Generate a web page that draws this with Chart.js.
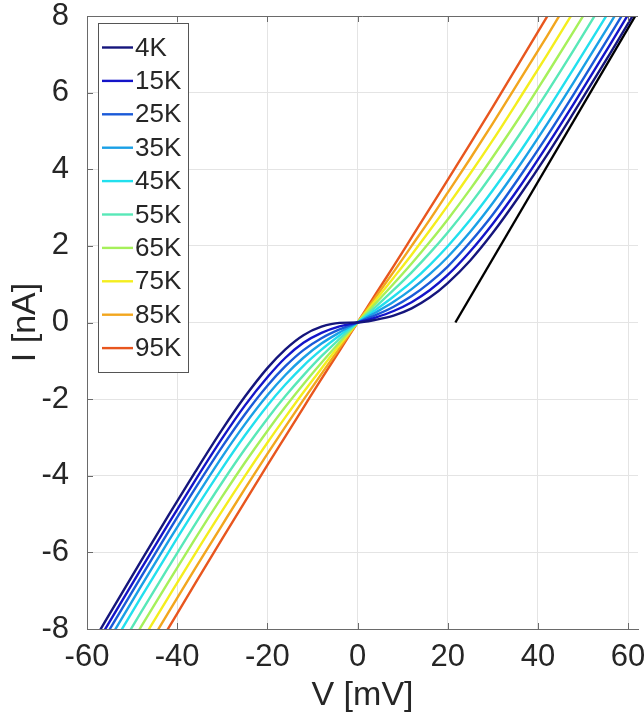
<!DOCTYPE html>
<html>
<head>
<meta charset="utf-8">
<script src="https://cdn.jsdelivr.net/npm/chart.js@4.4.1/dist/chart.umd.min.js"></script>
<style>
  html, body { margin: 0; padding: 0; background: #fff; }
  canvas { display: block; }
</style>
</head>
<body>
<canvas id="ivChart" width="644" height="721"></canvas>
<script>
// bias voltage grid (mV), shared by every temperature curve
const voltage = [-64, -56, -48, -42, -36, -30, -25, -20, -16, -12, -8, -4, 0, 4, 8, 12, 16, 20, 25, 30, 36, 42, 48, 56, 64];

const temperatures = ['4K', '15K', '25K', '35K', '45K', '55K', '65K', '75K', '85K', '95K'];

// current (nA) at each voltage above
const current4K  = [-9.40, -7.81, -6.22, -5.05, -3.90, -2.79, -1.94, -1.19, -0.70, -0.33, -0.11, -0.01, 0, 0.07, 0.18, 0.37, 0.65, 1.03, 1.62, 2.34, 3.32, 4.37, 5.49, 7.02, 8.59];
const current15K = [-9.60, -8.01, -6.43, -5.26, -4.12, -3.02, -2.17, -1.43, -0.92, -0.53, -0.27, -0.10, 0, 0.13, 0.30, 0.53, 0.84, 1.24, 1.86, 2.58, 3.55, 4.61, 5.72, 7.25, 8.82];
const current25K = [-9.80, -8.21, -6.64, -5.47, -4.33, -3.24, -2.40, -1.65, -1.14, -0.72, -0.41, -0.18, 0, 0.19, 0.41, 0.69, 1.04, 1.46, 2.10, 2.82, 3.81, 4.86, 5.97, 7.50, 9.06];
const current35K = [-10.05, -8.46, -6.88, -5.72, -4.59, -3.50, -2.66, -1.90, -1.37, -0.92, -0.55, -0.26, 0, 0.26, 0.54, 0.87, 1.26, 1.71, 2.37, 3.12, 4.11, 5.17, 6.28, 7.80, 9.37];
const current45K = [-10.33, -8.74, -7.17, -6.01, -4.88, -3.80, -2.95, -2.17, -1.62, -1.13, -0.71, -0.34, 0, 0.33, 0.68, 1.06, 1.50, 1.99, 2.68, 3.45, 4.45, 5.52, 6.64, 8.16, 9.73];
const current55K = [-10.71, -9.13, -7.56, -6.40, -5.26, -4.17, -3.31, -2.51, -1.92, -1.38, -0.88, -0.43, 0, 0.41, 0.85, 1.31, 1.81, 2.35, 3.09, 3.89, 4.92, 6.00, 7.12, 8.66, 10.22];
const current65K = [-11.10, -9.51, -7.94, -6.78, -5.64, -4.54, -3.66, -2.83, -2.20, -1.61, -1.05, -0.52, 0, 0.50, 1.01, 1.54, 2.10, 2.69, 3.48, 4.32, 5.37, 6.48, 7.61, 9.15, 10.72];
const current75K = [-11.50, -9.91, -8.34, -7.18, -6.03, -4.91, -4.01, -3.14, -2.47, -1.82, -1.20, -0.59, 0, 0.58, 1.17, 1.77, 2.40, 3.05, 3.89, 4.76, 5.86, 6.98, 8.13, 9.68, 11.26];
const current85K = [-11.92, -10.33, -8.75, -7.58, -6.42, -5.28, -4.34, -3.43, -2.72, -2.02, -1.34, -0.67, 0, 0.66, 1.32, 2.00, 2.68, 3.39, 4.28, 5.20, 6.33, 7.47, 8.64, 10.20, 11.79];
const current95K = [-12.35, -10.76, -9.17, -7.99, -6.81, -5.64, -4.68, -3.72, -2.97, -2.22, -1.47, -0.74, 0, 0.74, 1.47, 2.22, 2.97, 3.72, 4.67, 5.63, 6.80, 7.98, 9.16, 10.74, 12.33];

// black linear fit of the high-bias 4K branch
const fitVoltage = [21.7, 61.6];
const fitCurrent = [0, 8];

const xTicks = [-60, -40, -20, 0, 20, 40, 60];
const yTicks = [-8, -6, -4, -2, 0, 2, 4, 6, 8];

const currents = [current4K, current15K, current25K, current35K, current45K,
                  current55K, current65K, current75K, current85K, current95K];
const lineColors = ['#15157c', '#1414c8', '#1a5ad8', '#1aa0e6', '#22e0ee',
                    '#58e8b8', '#a6f05a', '#f4ee1e', '#f2a61e', '#e8561e'];

const FONT = 'Liberation Sans, Arial, Helvetica, sans-serif';
const TEXT_COLOR = '#262626';
const AXIS_COLOR = '#6a6a6a';
const GRID_COLOR = '#e4e4e4';

const datasets = currents.map((cur, i) => ({
    label: temperatures[i],
    data: voltage.map((v, k) => ({ x: v, y: cur[k] })),
    borderColor: lineColors[i],
    borderWidth: 2.4,
    pointRadius: 0,
    showLine: true,
    fill: false,
    cubicInterpolationMode: 'monotone'
}));
datasets.push({
    label: 'fit',
    data: fitVoltage.map((v, k) => ({ x: v, y: fitCurrent[k] })),
    borderColor: '#000000',
    borderWidth: 2.4,
    pointRadius: 0,
    showLine: true,
    fill: false
});

// box top edge, inward ticks and the boxed legend, MATLAB style
const matlabFrame = {
    id: 'matlabFrame',
    afterDraw(chart) {
        const { ctx, chartArea: a, scales } = chart;
        ctx.save();
        ctx.strokeStyle = AXIS_COLOR;
        ctx.lineWidth = 1;
        ctx.beginPath();
        ctx.moveTo(a.left, a.top + 0.5);
        ctx.lineTo(a.right, a.top + 0.5);
        scales.x.ticks.forEach(t => {
            const px = Math.round(scales.x.getPixelForValue(t.value)) + 0.5;
            ctx.moveTo(px, a.bottom); ctx.lineTo(px, a.bottom - 6);
            ctx.moveTo(px, a.top); ctx.lineTo(px, a.top + 6);
        });
        scales.y.ticks.forEach(t => {
            const py = Math.round(scales.y.getPixelForValue(t.value)) + 0.5;
            ctx.moveTo(a.left, py); ctx.lineTo(a.left + 6, py);
        });
        ctx.stroke();

        // legend
        const lx = 98.5, ly = 23.5, lw = 90, lh = 349;
        ctx.fillStyle = '#ffffff';
        ctx.fillRect(lx, ly, lw, lh);
        ctx.strokeStyle = '#555555';
        ctx.strokeRect(lx, ly, lw, lh);
        ctx.font = '26px ' + FONT;
        ctx.textBaseline = 'middle';
        ctx.textAlign = 'left';
        for (let i = 0; i < temperatures.length; i++) {
            const yy = 47.5 + i * 33.4;
            ctx.strokeStyle = lineColors[i];
            ctx.lineWidth = 2.4;
            ctx.beginPath();
            ctx.moveTo(102, yy);
            ctx.lineTo(133, yy);
            ctx.stroke();
            ctx.fillStyle = TEXT_COLOR;
            ctx.fillText(temperatures[i], 135, yy + 1);
        }
        ctx.restore();
    }
};

new Chart(document.getElementById('ivChart').getContext('2d'), {
    type: 'scatter',
    data: { datasets: datasets },
    options: {
        responsive: false,
        devicePixelRatio: 1,
        animation: false,
        layout: { padding: { top: 16, right: 6, left: 0, bottom: 0 } },
        plugins: {
            legend: { display: false },
            tooltip: { enabled: false }
        },
        scales: {
            x: {
                type: 'linear',
                min: -60,
                max: 62.2,
                afterBuildTicks: s => { s.ticks = xTicks.map(v => ({ value: v })); },
                afterFit: s => { s.height = 92; s.paddingLeft = 0; s.paddingRight = 0; },
                grid: { color: GRID_COLOR, drawTicks: false },
                border: { display: true, color: AXIS_COLOR },
                ticks: { font: { family: FONT, size: 31 }, color: TEXT_COLOR, padding: 10, maxRotation: 0 },
                title: { display: true, text: 'V [mV]', font: { family: FONT, size: 34 }, color: TEXT_COLOR, padding: { top: 0, bottom: 5 } }
            },
            y: {
                type: 'linear',
                min: -8,
                max: 8,
                afterBuildTicks: s => { s.ticks = yTicks.map(v => ({ value: v })); },
                afterFit: s => { s.width = 87; s.paddingTop = 0; s.paddingBottom = 0; },
                grid: { color: GRID_COLOR, drawTicks: false },
                border: { display: true, color: AXIS_COLOR },
                ticks: { font: { family: FONT, size: 31 }, color: TEXT_COLOR, padding: 18 },
                title: { display: true, text: 'I [nA]', font: { family: FONT, size: 34 }, color: TEXT_COLOR, padding: { top: 5, bottom: 0 } }
            }
        }
    },
    plugins: [matlabFrame]
});
</script>
</body>
</html>
